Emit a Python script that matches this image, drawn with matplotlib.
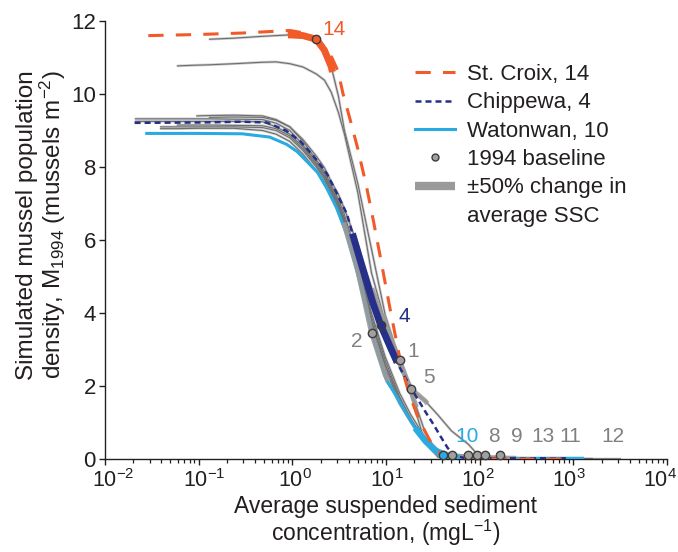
import numpy as np
import matplotlib.pyplot as plt
import matplotlib.transforms as mtransforms
from matplotlib.lines import Line2D

plt.rcParams['font.family'] = ['Liberation Sans', 'DejaVu Sans']
plt.rcParams['mathtext.fontset'] = 'custom'
plt.rcParams['mathtext.rm'] = 'Liberation Sans'
plt.rcParams['mathtext.it'] = 'Liberation Sans:italic'
plt.rcParams['mathtext.default'] = 'regular'

RED = '#f15a29'
NAVY = '#262f8a'
LBLUE = '#29aae1'
GRAY = '#6d6e70'
HALO = '#cdcdcd'
BAND = '#9a9a9a'
TXT = '#231f20'
NUM = '#808080'

# shared SSC grid (mg/L) for the grey river curves
ssc_grid = [0.021, 0.039, 0.059, 0.095, 0.13, 0.24, 0.48, 0.67, 0.94, 1.3,
            1.8, 2.2, 2.6, 3.1, 3.6, 5.0, 7.0, 9.8, 14, 18.5,
            26, 36, 50, 76, 93, 114, 165, 250, 490, 800,
            1600, 3200]
nan = np.nan
m_r14 = [nan, nan, nan, nan, 11.5, 11.53, 11.58, 11.6, 11.62, 11.6,
         11.5, 11.2, 10.75, 9.95, 9.0, 7.55, 5.75, 3.95, 2.71, 1.75,
         0.45, 0.05, 0.01, 0, 0, 0, 0, 0, 0, 0,
         nan, nan]
m_r5 = [nan, nan, 10.77, 10.79, 10.8, 10.83, 10.87, 10.88, 10.83, 10.74,
        10.55, 10.38, 10.05, 9.5, 8.9, 7.3, 5.1, 3.75, 2.6, 1.92,
        1.6, 1.2, 0.77, 0.4, 0.15, 0.05, 0.01, 0, 0, 0,
        0, nan]
m_r1 = [nan, nan, nan, 9.40, 9.41, 9.42, 9.4, 9.3, 9.1, 8.75,
        8.3, 7.98, 7.6, 7.25, 6.85, 5.85, 4.7, 3.65, 2.71, 1.85,
        0.75, 0.12, 0.02, 0, 0, 0, 0, 0, nan, nan,
        nan, nan]
m_r2 = [nan, 9.05, 9.05, 9.06, 9.06, 9.06, 9.0, 8.9, 8.7, 8.35,
        7.9, 7.6, 7.25, 6.85, 6.4, 5.15, 3.45, 2.3, 1.5, 1.0,
        0.45, 0.12, 0.03, 0.01, 0, 0, 0, 0, 0, nan,
        nan, nan]
m_r8 = [9.32, 9.32, 9.32, 9.32, 9.32, 9.31, 9.3, 9.2, 9.0, 8.6,
        8.15, 7.82, 7.45, 7.05, 6.6, 5.4, 3.9, 2.7, 1.7, 1.1,
        0.5, 0.15, 0.06, 0.03, 0.02, 0.02, 0.01, 0.01, 0, 0,
        nan, nan]
m_r9 = [nan, nan, 9.15, 9.15, 9.15, 9.14, 9.13, 9.05, 8.85, 8.5,
        8.05, 7.72, 7.35, 6.95, 6.5, 5.3, 3.75, 2.55, 1.6, 1.05,
        0.55, 0.22, 0.08, 0.04, 0.02, 0.02, 0.01, 0.01, 0, 0,
        0, nan]
m_r13 = [nan, nan, nan, nan, 9.36, 9.37, 9.36, 9.28, 9.1, 8.7,
         8.2, 7.88, 7.5, 7.12, 6.7, 5.5, 4.0, 2.8, 1.8, 1.2,
         0.6, 0.25, 0.1, 0.05, 0.03, 0.02, 0.01, 0.01, 0, 0,
         nan, nan]
m_r11 = [nan, 9.1, 9.1, 9.1, 9.1, 9.1, 9.08, 9.0, 8.8, 8.45,
         8.0, 7.67, 7.3, 6.9, 6.45, 5.25, 3.65, 2.45, 1.55, 1.0,
         0.5, 0.2, 0.08, 0.05, 0.04, 0.03, 0.02, 0.01, 0, 0,
         0, nan]
m_r12 = [9.25, 9.25, 9.25, 9.25, 9.25, 9.25, 9.24, 9.1, 8.9, 8.55,
         8.1, 7.77, 7.4, 7.0, 6.55, 5.35, 3.8, 2.6, 1.65, 1.05,
         0.55, 0.22, 0.1, 0.06, 0.05, 0.04, 0.03, 0.02, 0.01, 0.01,
         0.0, 0.0]

# St. Croix (dashed)
stcroix_ssc = [0.029, 0.1, 0.29, 0.94, 1.5, 2.04, 2.64, 3.07, 3.48, 4.1,
               5.0, 6.23, 7.37, 8.6, 11.0, 14.7, 17.6, 21.3, 26.2, 30.8,
               38.9, 51.5, 85, 250, 800]
stcroix_m = [11.6, 11.63, 11.67, 11.74, 11.65, 11.4, 11.0, 10.63, 10.0, 9.34,
             8.5, 7.43, 6.5, 5.6, 4.14, 2.5, 1.8, 1.23, 0.75, 0.41,
             0.12, 0.03, 0.01, 0.0, 0.0]

# Chippewa (river 4)
chippewa_ssc = [0.0207, 0.0996, 0.291, 0.532, 0.852, 1.21, 1.68, 2.35, 3.03, 3.84,
                4.30, 5.74, 7.2, 8.77, 10.96, 13.39, 14.68, 19.33, 27.0, 32.1,
                37.6, 45.6, 55.7, 68.2, 167, 855]
chippewa_m = [9.21, 9.22, 9.24, 9.22, 9.0, 8.71, 8.3, 7.81, 7.25, 6.7,
              6.25, 5.15, 4.3, 3.67, 3.1, 2.6, 2.41, 1.86, 1.25, 0.95,
              0.65, 0.3, 0.08, 0.03, 0.02, 0.02]

# Watonwan (river 10)
watonwan_ssc = [0.0279, 0.0996, 0.291, 0.573, 0.87, 1.128, 1.42, 1.858, 2.32, 2.94,
                3.81, 4.72, 5.79, 7.11, 8.51, 10.17, 12.52, 16.58, 20.45, 26.2,
                32.97, 40.6, 51.5, 60.7, 84.8, 248, 1250]
watonwan_m = [8.92, 8.92, 8.91, 8.82, 8.62, 8.42, 8.16, 7.85, 7.43, 6.9,
              6.16, 5.3, 4.4, 3.45, 2.75, 2.14, 1.78, 1.23, 0.85, 0.5,
              0.25, 0.12, 0.05, 0.03, 0.02, 0.02, 0.02]

# 1994 baseline per river
river_ids = ['14', '4', '2', '1', '5', '10', '8', '9', '13', '11', '12']
baseline_ssc = [1.79, 8.77, 7.03, 14.1, 18.5, 40.9, 50.3, 75.6, 92.9, 113.9, 164.7]
baseline_m = [11.5, 3.67, 3.45, 2.71, 1.92, 0.1, 0.1, 0.1, 0.1, 0.1, 0.1]

# labels for the low-density rivers sit in a row above the axis
bottom_ids = ['10', '8', '9', '13', '11', '12']
bottom_label_ssc = [72.7, 142, 248, 477, 920, 2667]
bottom_label_m = 0.63

decades = [-2, -1, 0, 1, 2, 3, 4]

grid = np.array(ssc_grid)
gray_rows = {'14': m_r14, '5': m_r5, '1': m_r1, '2': m_r2, '8': m_r8,
             '9': m_r9, '13': m_r13, '11': m_r11, '12': m_r12}
curves = {k: (grid, np.array(v, dtype=float)) for k, v in gray_rows.items()}
curves['4'] = (np.array(chippewa_ssc), np.array(chippewa_m))
curves['10'] = (np.array(watonwan_ssc), np.array(watonwan_m))


def band_segment(c, m, c0):
    # part of a curve within +-50% of the baseline concentration
    ok = ~np.isnan(m)
    c, m = c[ok], m[ok]
    lo, hi = 0.5 * c0, 1.5 * c0
    bc = np.concatenate([[lo], c[(c > lo) & (c < hi)], [hi]])
    bm = np.interp(np.log10(bc), np.log10(c), m)
    return bc, bm


fig = plt.figure(figsize=(6.78, 5.52), dpi=100)
ax = fig.add_axes([105 / 678, 1 - 459 / 552, 562 / 678, 438 / 552])

for k in gray_rows:
    c, m = curves[k]
    ax.plot(c, m, color=HALO, lw=1.9, zorder=1, solid_capstyle='butt')
    ax.plot(c, m, color=GRAY, lw=0.8, zorder=2)

ax.plot(watonwan_ssc, watonwan_m, color=LBLUE, lw=2.2, zorder=3)

base = dict(zip(river_ids, zip(baseline_ssc, baseline_m)))
for k in ['2', '1', '5', '8', '9', '13', '11', '12']:
    bc, bm = band_segment(*curves[k], base[k][0])
    ax.plot(bc, bm, color=BAND, lw=3.5, zorder=4, solid_capstyle='butt', alpha=0.9)

bc, bm = band_segment(*curves['10'], base['10'][0])
ax.plot(bc, bm, color=LBLUE, lw=4.5, zorder=5, solid_capstyle='butt')

ax.plot(chippewa_ssc, chippewa_m, color=NAVY, lw=1.8, dashes=(2.4, 1.6), zorder=6)
bc, bm = band_segment(*curves['4'], base['4'][0])
ax.plot(bc, bm, color=NAVY, lw=5, zorder=7, solid_capstyle='butt')

ax.plot(stcroix_ssc, stcroix_m, color=RED, lw=2.2, dashes=(5, 4), zorder=8)
bc, bm = band_segment(*curves['14'], base['14'][0])
ax.plot(bc, bm, color=RED, lw=5, zorder=9, solid_capstyle='butt')

face = {'14': RED, '4': NAVY, '10': LBLUE}
for k, c0, m0 in zip(river_ids, baseline_ssc, baseline_m):
    ax.plot(c0, m0, 'o', ms=6, mfc=face.get(k, '#a0a0a0'), mec='#3c3c3c',
            mew=1.0, zorder=10, clip_on=False)

# river numbers next to their baseline points
offsets = {'14': (13, 7, RED), '4': (17, 6.5, NAVY), '2': (-11, -6, NUM),
           '1': (9.6, 6, NUM), '5': (13, 8, NUM)}
for k, (dx, dy, col) in offsets.items():
    ax.annotate(k, base[k], xytext=(dx, dy), textcoords='offset points',
                ha='center', va='center', fontsize=15, color=col)
for k, c in zip(bottom_ids, bottom_label_ssc):
    ax.text(c, bottom_label_m, k, ha='center', va='center', fontsize=15,
            color=LBLUE if k == '10' else NUM)

ax.set_xscale('log')
ax.set_xlim(1e-2, 1e4)
ax.set_ylim(0, 12)
ax.set_yticks(range(0, 13, 2))
ax.set_xticks([10.0 ** d for d in decades])
ax.set_xticklabels(['10$^{%d}$' % d for d in decades])
for s in ['top', 'right']:
    ax.spines[s].set_visible(False)
for s in ['left', 'bottom']:
    ax.spines[s].set_color(TXT)
    ax.spines[s].set_linewidth(1.0)
ax.tick_params(axis='both', which='major', direction='out', length=4.5, width=1,
               color=TXT, labelcolor=TXT)
ax.tick_params(axis='y', labelsize=16, pad=2)
ax.tick_params(axis='x', labelsize=15.5, pad=3)
ax.tick_params(axis='x', which='minor', direction='out', length=3, width=0.9, color=TXT)

# decade labels are spread a little tighter than the ticks themselves
for lab, d in zip(ax.get_xticklabels(), decades):
    shift = (8 - 2.5 * (d + 2)) / fig.dpi
    lab.set_transform(lab.get_transform() +
                      mtransforms.ScaledTranslation(shift, 0, fig.dpi_scale_trans))

ax.set_xlabel('Average suspended sediment\nconcentration, (mgL$^{-1}$)',
              fontsize=16.5, color=TXT, labelpad=2, linespacing=1.0)
ax.set_ylabel('Simulated mussel population\ndensity, M$_{1994}$ (mussels m$^{-2}$)',
              fontsize=17.5, color=TXT, linespacing=1.0)
ax.yaxis.set_label_coords(-0.065, 0.535)

blank = Line2D([], [], ls='none')
handles = [
    Line2D([], [], color=RED, lw=2.2, dashes=(5, 4)),
    Line2D([], [], color=NAVY, lw=1.8, dashes=(2.4, 1.6)),
    Line2D([], [], color=LBLUE, lw=2.2),
    Line2D([], [], ls='none', marker='o', ms=5, mfc='#a0a0a0', mec='#3c3c3c'),
    Line2D([], [], color=BAND, lw=6, solid_capstyle='butt'),
    blank,
]
labels = ['St. Croix, 14', 'Chippewa, 4', 'Watonwan, 10', '1994 baseline',
          '\u00b150% change in', 'average SSC']
fig.legend(handles, labels, loc='upper left', bbox_to_anchor=(415 / 678, 1 - 64 / 552),
           frameon=False, fontsize=16, handlelength=1.8, handletextpad=0.55,
           labelspacing=0.33, borderpad=0, borderaxespad=0, labelcolor=TXT)

fig.savefig('out.png', dpi=100)
